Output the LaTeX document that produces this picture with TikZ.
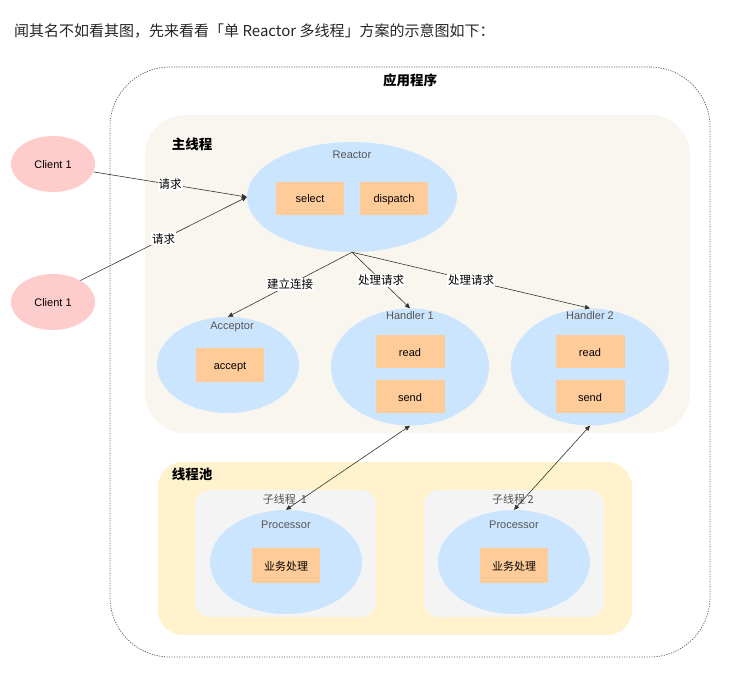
\documentclass[tikz,border=0pt]{standalone}
\usepackage{fontspec}
\setmainfont{Liberation Sans}
\newfontfamily\cjk{Noto Sans CJK SC}
\usetikzlibrary{shapes.geometric,arrows.meta}
\definecolor{clientpink}{HTML}{FFCCCC}
\definecolor{lblue}{HTML}{CCE5FF}
\definecolor{obox}{HTML}{FFCC99}
\definecolor{mainbg}{HTML}{F8F6EE}
\definecolor{poolbg}{HTML}{FFF2CC}
\definecolor{subbg}{HTML}{F4F4F4}
\definecolor{txtgray}{HTML}{555555}
\definecolor{linec}{HTML}{333333}
\tikzset{
  base/.style={font=\fontsize{11}{13}\selectfont, text=black, text height=9pt, text depth=0pt},
  client/.style={base, ellipse, fill=clientpink, minimum width=84pt, minimum height=56pt, inner sep=0pt},
  ell/.style={ellipse, fill=lblue, inner sep=0pt},
  obx/.style={base, fill=obox, minimum width=68pt, minimum height=33pt, inner sep=0pt},
  cont/.style={inner sep=0pt},
  ttl/.style={font=\fontsize{11}{13}\selectfont, text=txtgray},
  lab/.style={font=\fontsize{11.5}{13}\selectfont\cjk, fill=white, inner sep=1pt},
  boldlab/.style={font=\fontsize{13.5}{15}\selectfont\cjk\bfseries},
  conn/.style={draw=linec, line width=0.6pt, -{Triangle[length=5pt,width=4.5pt]}},
  dconn/.style={draw=linec, line width=0.6pt, {Triangle[length=5pt,width=4.5pt]}-{Triangle[length=5pt,width=4.5pt]}},
}
\begin{document}
\begin{tikzpicture}[x=1pt,y=-1pt]
\useasboundingbox (0,0) rectangle (729,681);
\fill[white] (0,0) rectangle (729,681);
% title
\node[anchor=west, inner sep=0pt, font=\fontsize{15}{17}\selectfont\cjk, text=black!85] (title) at (14,31) {闻其名不如看其图，先来看看「单 Reactor 多线程」方案的示意图如下：};
% containers
\node[cont, draw=black!65, line width=0.7pt, dash pattern=on 1.2pt off 1.3pt, rounded corners=60pt, minimum width=600pt, minimum height=590pt] (app) at (410,362) {};
\node[boldlab] (appl) at (410,80) {应用程序};
\node[cont, fill=mainbg, rounded corners=40pt, minimum width=545pt, minimum height=318pt] (main) at (417.5,274) {};
\node[boldlab] (mainl) at (192,144) {主线程};
\node[cont, fill=poolbg, rounded corners=25pt, minimum width=474pt, minimum height=173pt] (pool) at (395,548.5) {};
\node[boldlab] (pooll) at (192,474) {线程池};
\node[cont, fill=subbg, rounded corners=15pt, minimum width=181pt, minimum height=127pt] (sub1) at (285.5,553.5) {};
\node[cont, fill=subbg, rounded corners=15pt, minimum width=180pt, minimum height=127pt] (sub2) at (514,553.5) {};
\node[ttl, font=\fontsize{11}{13}\selectfont\cjk] (sub1l) at (285,499) {子线程\ \ 1};
\node[ttl, font=\fontsize{11}{13}\selectfont\cjk] (sub2l) at (513,499) {子线程\ 2};
% clients
\node[client] (c1) at (53,164) {Client 1};
\node[client] (c2) at (53,302) {Client 1};
% reactor
\node[ell, minimum width=210pt, minimum height=110pt] (reactor) at (352,197) {};
\node[ttl] (reactorl) at (352,155) {Reactor};
\node[obx] (select) at (310,198) {select};
\node[obx] (dispatch) at (394,198) {dispatch};
% acceptor
\node[ell, minimum width=142pt, minimum height=96pt] (acc) at (228,365) {};
\node[ttl] (accl) at (232,327) {Acceptor};
\node[obx, minimum height=34pt] (accept) at (230,365) {accept};
% handlers
\node[ell, minimum width=158pt, minimum height=117pt] (h1) at (410,367) {};
\node[ttl] (h1l) at (410,316) {Handler 1};
\node[obx, minimum width=69pt] (read1) at (410,351.5) {read};
\node[obx, minimum width=69pt] (send1) at (410,396.5) {send};
\node[ell, minimum width=158pt, minimum height=117pt] (h2) at (590,367) {};
\node[ttl] (h2l) at (590,316) {Handler 2};
\node[obx, minimum width=69pt] (read2) at (590,351.5) {read};
\node[obx, minimum width=69pt] (send2) at (590,396.5) {send};
% processors
\node[ell, minimum width=152pt, minimum height=104pt] (p1) at (286,562) {};
\node[ttl] (p1l) at (286,525) {Processor};
\node[obx, minimum height=35pt, font=\fontsize{11}{13}\selectfont\cjk] (biz1) at (286,565.5) {业务处理};
\node[ell, minimum width=152pt, minimum height=104pt] (p2) at (514,562) {};
\node[ttl] (p2l) at (514,525) {Processor};
\node[obx, minimum height=35pt, font=\fontsize{11}{13}\selectfont\cjk] (biz2) at (514,565.5) {业务处理};
% connectors
\draw[conn] (c1.-11) -- node[lab] {请求} (reactor.west);
\draw[conn] (c2.38) -- node[lab] {请求} (reactor.west);
\draw[conn] (reactor.south) -- node[lab] {建立连接} (acc.north);
\draw[conn] (reactor.south) -- node[lab] {处理请求} (h1.north);
\draw[conn] (reactor.south) -- node[lab] {处理请求} (h2.north);
\draw[dconn] (h1.south) -- (p1.north);
\draw[dconn] (h2.south) -- (p2.north);
\end{tikzpicture}
\end{document}
